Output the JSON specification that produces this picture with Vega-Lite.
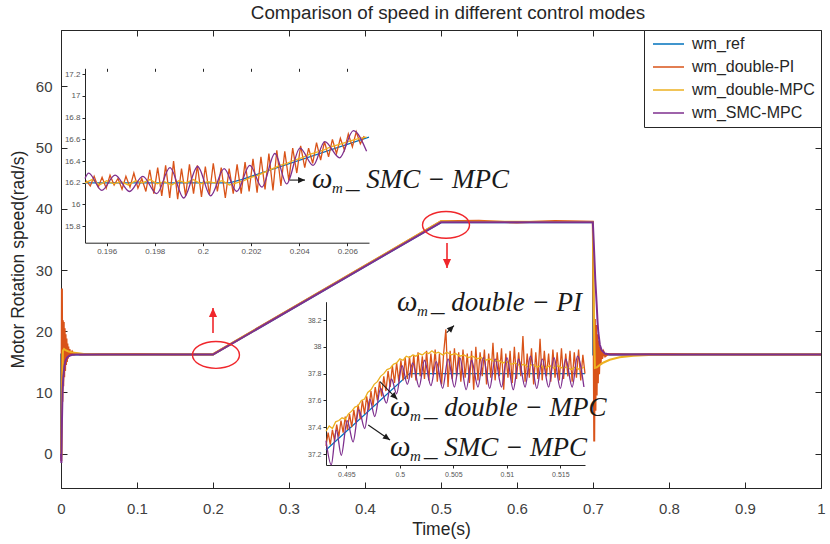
{
 "$schema": "https://vega.github.io/schema/vega-lite/v6.json",
 "width": 760, "height": 458,
 "autosize": {"type": "none"},
 "padding": {"left": 61, "top": 30, "right": 9, "bottom": 56},
 "title": {"text": "Comparison of speed in different control modes", "fontSize": 18.8, "fontWeight": "normal", "color": "#262626", "offset": 7, "dx": 7},
 "datasets": {
  "main": [
   {"s":"wm_ref","t":0,"v":0},{"s":"wm_ref","t":0.0003,"v":16.2},{"s":"wm_ref","t":0.2,"v":16.2},{"s":"wm_ref","t":0.5,"v":37.8},{"s":"wm_ref","t":0.7,"v":37.8},{"s":"wm_ref","t":0.7003,"v":16.2},{"s":"wm_ref","t":1,"v":16.2},
   {"s":"wm_double-PI","t":0,"v":0},{"s":"wm_double-PI","t":0.0004,"v":-1.2},{"s":"wm_double-PI","t":0.0012,"v":27},{"s":"wm_double-PI","t":0.0018,"v":8.5},{"s":"wm_double-PI","t":0.0024,"v":21.8},{"s":"wm_double-PI","t":0.003,"v":11},{"s":"wm_double-PI","t":0.0036,"v":21.5},{"s":"wm_double-PI","t":0.0042,"v":12.5},{"s":"wm_double-PI","t":0.0048,"v":20.5},{"s":"wm_double-PI","t":0.0054,"v":13.5},{"s":"wm_double-PI","t":0.006,"v":19.5},{"s":"wm_double-PI","t":0.0066,"v":14.5},{"s":"wm_double-PI","t":0.0072,"v":18.8},{"s":"wm_double-PI","t":0.0078,"v":15},{"s":"wm_double-PI","t":0.0084,"v":18},{"s":"wm_double-PI","t":0.009,"v":15.5},{"s":"wm_double-PI","t":0.0096,"v":17.5},{"s":"wm_double-PI","t":0.0104,"v":15.8},{"s":"wm_double-PI","t":0.0112,"v":17.1},{"s":"wm_double-PI","t":0.012,"v":16},{"s":"wm_double-PI","t":0.013,"v":16.8},{"s":"wm_double-PI","t":0.014,"v":16.1},{"s":"wm_double-PI","t":0.015,"v":16.6},{"s":"wm_double-PI","t":0.017,"v":16.2},{"s":"wm_double-PI","t":0.02,"v":16.4},{"s":"wm_double-PI","t":0.025,"v":16.2},{"s":"wm_double-PI","t":0.1,"v":16.3},{"s":"wm_double-PI","t":0.15,"v":16.2},{"s":"wm_double-PI","t":0.2,"v":16.25},{"s":"wm_double-PI","t":0.3,"v":23.5},{"s":"wm_double-PI","t":0.4,"v":30.7},{"s":"wm_double-PI","t":0.5,"v":37.95},{"s":"wm_double-PI","t":0.55,"v":38.05},{"s":"wm_double-PI","t":0.6,"v":37.75},{"s":"wm_double-PI","t":0.65,"v":38.0},{"s":"wm_double-PI","t":0.6998,"v":37.9},{"s":"wm_double-PI","t":0.7008,"v":20},{"s":"wm_double-PI","t":0.7016,"v":2},{"s":"wm_double-PI","t":0.7024,"v":22},{"s":"wm_double-PI","t":0.7032,"v":7},{"s":"wm_double-PI","t":0.704,"v":21},{"s":"wm_double-PI","t":0.7048,"v":9.5},{"s":"wm_double-PI","t":0.7056,"v":19.5},{"s":"wm_double-PI","t":0.7064,"v":11.5},{"s":"wm_double-PI","t":0.7072,"v":18.5},{"s":"wm_double-PI","t":0.708,"v":13},{"s":"wm_double-PI","t":0.709,"v":17.5},{"s":"wm_double-PI","t":0.71,"v":14.5},{"s":"wm_double-PI","t":0.711,"v":17},{"s":"wm_double-PI","t":0.712,"v":15.5},{"s":"wm_double-PI","t":0.714,"v":16.6},{"s":"wm_double-PI","t":0.716,"v":15.9},{"s":"wm_double-PI","t":0.72,"v":16.3},{"s":"wm_double-PI","t":0.75,"v":16.2},{"s":"wm_double-PI","t":0.8,"v":16.3},{"s":"wm_double-PI","t":0.9,"v":16.2},{"s":"wm_double-PI","t":1,"v":16.2},
   {"s":"wm_double-MPC","t":0,"v":0},{"s":"wm_double-MPC","t":0.0005,"v":-0.5},{"s":"wm_double-MPC","t":0.0015,"v":10},{"s":"wm_double-MPC","t":0.0025,"v":16.8},{"s":"wm_double-MPC","t":0.004,"v":17.1},{"s":"wm_double-MPC","t":0.006,"v":16.9},{"s":"wm_double-MPC","t":0.01,"v":16.7},{"s":"wm_double-MPC","t":0.015,"v":16.55},{"s":"wm_double-MPC","t":0.02,"v":16.45},{"s":"wm_double-MPC","t":0.03,"v":16.3},{"s":"wm_double-MPC","t":0.05,"v":16.2},{"s":"wm_double-MPC","t":0.2,"v":16.2},{"s":"wm_double-MPC","t":0.21,"v":16.95},{"s":"wm_double-MPC","t":0.5,"v":37.95},{"s":"wm_double-MPC","t":0.52,"v":37.9},{"s":"wm_double-MPC","t":0.6998,"v":37.85},{"s":"wm_double-MPC","t":0.7012,"v":22},{"s":"wm_double-MPC","t":0.7025,"v":14},{"s":"wm_double-MPC","t":0.705,"v":14.1},{"s":"wm_double-MPC","t":0.709,"v":14.5},{"s":"wm_double-MPC","t":0.714,"v":14.9},{"s":"wm_double-MPC","t":0.722,"v":15.35},{"s":"wm_double-MPC","t":0.735,"v":15.75},{"s":"wm_double-MPC","t":0.753,"v":16.0},{"s":"wm_double-MPC","t":0.78,"v":16.15},{"s":"wm_double-MPC","t":0.82,"v":16.2},{"s":"wm_double-MPC","t":1,"v":16.2},
   {"s":"wm_SMC-MPC","t":0,"v":0},{"s":"wm_SMC-MPC","t":0.0005,"v":-1.5},{"s":"wm_SMC-MPC","t":0.0012,"v":5},{"s":"wm_SMC-MPC","t":0.002,"v":10},{"s":"wm_SMC-MPC","t":0.003,"v":12.5},{"s":"wm_SMC-MPC","t":0.0045,"v":14.3},{"s":"wm_SMC-MPC","t":0.006,"v":15.2},{"s":"wm_SMC-MPC","t":0.008,"v":15.7},{"s":"wm_SMC-MPC","t":0.011,"v":16},{"s":"wm_SMC-MPC","t":0.015,"v":16.15},{"s":"wm_SMC-MPC","t":0.02,"v":16.2},{"s":"wm_SMC-MPC","t":0.2,"v":16.2},{"s":"wm_SMC-MPC","t":0.5,"v":37.8},{"s":"wm_SMC-MPC","t":0.6998,"v":37.8},{"s":"wm_SMC-MPC","t":0.7015,"v":33},{"s":"wm_SMC-MPC","t":0.703,"v":28.5},{"s":"wm_SMC-MPC","t":0.7048,"v":24.5},{"s":"wm_SMC-MPC","t":0.706,"v":21.5},{"s":"wm_SMC-MPC","t":0.707,"v":19.8},{"s":"wm_SMC-MPC","t":0.709,"v":17.8},{"s":"wm_SMC-MPC","t":0.7114,"v":16.9},{"s":"wm_SMC-MPC","t":0.7158,"v":16.35},{"s":"wm_SMC-MPC","t":0.722,"v":16.2},{"s":"wm_SMC-MPC","t":1,"v":16.2}
  ],
  "in1": [
   {"s":"wm_ref","t":0.1951,"v":16.2},{"s":"wm_ref","t":0.2011,"v":16.2},{"s":"wm_ref","t":0.2016,"v":16.23},{"s":"wm_ref","t":0.2069,"v":16.62},
   {"s":"wm_double-PI","t":0.19515,"v":16.22},{"s":"wm_double-PI","t":0.19532,"v":16.17},{"s":"wm_double-PI","t":0.19548,"v":16.26},{"s":"wm_double-PI","t":0.19565,"v":16.16},{"s":"wm_double-PI","t":0.19581,"v":16.25},{"s":"wm_double-PI","t":0.19598,"v":16.15},{"s":"wm_double-PI","t":0.19614,"v":16.27},{"s":"wm_double-PI","t":0.19631,"v":16.18},{"s":"wm_double-PI","t":0.19647,"v":16.24},{"s":"wm_double-PI","t":0.19664,"v":16.14},{"s":"wm_double-PI","t":0.1968,"v":16.26},{"s":"wm_double-PI","t":0.19697,"v":16.16},{"s":"wm_double-PI","t":0.19713,"v":16.29},{"s":"wm_double-PI","t":0.1973,"v":16.15},{"s":"wm_double-PI","t":0.19746,"v":16.24},
   {"s":"wm_double-PI","t":0.19763,"v":16.12},{"s":"wm_double-PI","t":0.19779,"v":16.32},{"s":"wm_double-PI","t":0.19796,"v":16.1},{"s":"wm_double-PI","t":0.19812,"v":16.34},{"s":"wm_double-PI","t":0.19829,"v":16.08},{"s":"wm_double-PI","t":0.19845,"v":16.36},{"s":"wm_double-PI","t":0.19862,"v":16.06},
   {"s":"wm_double-PI","t":0.19878,"v":16.4},{"s":"wm_double-PI","t":0.19895,"v":16.05},{"s":"wm_double-PI","t":0.19911,"v":16.33},{"s":"wm_double-PI","t":0.19928,"v":16.08},{"s":"wm_double-PI","t":0.19944,"v":16.37},{"s":"wm_double-PI","t":0.19961,"v":16.1},{"s":"wm_double-PI","t":0.19977,"v":16.36},{"s":"wm_double-PI","t":0.19994,"v":16.07},{"s":"wm_double-PI","t":0.2001,"v":16.35},{"s":"wm_double-PI","t":0.20027,"v":16.09},{"s":"wm_double-PI","t":0.20043,"v":16.38},{"s":"wm_double-PI","t":0.2006,"v":16.12},{"s":"wm_double-PI","t":0.20076,"v":16.34},{"s":"wm_double-PI","t":0.20093,"v":16.06},{"s":"wm_double-PI","t":0.20109,"v":16.33},{"s":"wm_double-PI","t":0.20126,"v":16.1},{"s":"wm_double-PI","t":0.20142,"v":16.37},
   {"s":"wm_double-PI","t":0.20159,"v":16.1},{"s":"wm_double-PI","t":0.20175,"v":16.39},{"s":"wm_double-PI","t":0.20192,"v":16.12},{"s":"wm_double-PI","t":0.20208,"v":16.42},{"s":"wm_double-PI","t":0.20225,"v":16.11},{"s":"wm_double-PI","t":0.20241,"v":16.44},{"s":"wm_double-PI","t":0.20258,"v":16.14},{"s":"wm_double-PI","t":0.20274,"v":16.47},{"s":"wm_double-PI","t":0.20291,"v":16.13},{"s":"wm_double-PI","t":0.20307,"v":16.5},{"s":"wm_double-PI","t":0.20324,"v":16.17},{"s":"wm_double-PI","t":0.2034,"v":16.49},{"s":"wm_double-PI","t":0.20357,"v":16.22},{"s":"wm_double-PI","t":0.20373,"v":16.52},{"s":"wm_double-PI","t":0.2039,"v":16.29},{"s":"wm_double-PI","t":0.20406,"v":16.54},{"s":"wm_double-PI","t":0.20423,"v":16.34},{"s":"wm_double-PI","t":0.20439,"v":16.52},{"s":"wm_double-PI","t":0.20456,"v":16.38},{"s":"wm_double-PI","t":0.20472,"v":16.57},{"s":"wm_double-PI","t":0.20489,"v":16.41},{"s":"wm_double-PI","t":0.20505,"v":16.58},{"s":"wm_double-PI","t":0.20522,"v":16.44},{"s":"wm_double-PI","t":0.20538,"v":16.6},{"s":"wm_double-PI","t":0.20555,"v":16.47},{"s":"wm_double-PI","t":0.20571,"v":16.61},{"s":"wm_double-PI","t":0.20588,"v":16.5},{"s":"wm_double-PI","t":0.20604,"v":16.65},{"s":"wm_double-PI","t":0.20621,"v":16.53},{"s":"wm_double-PI","t":0.20637,"v":16.67},{"s":"wm_double-PI","t":0.20654,"v":16.56},{"s":"wm_double-PI","t":0.2067,"v":16.63},
   {"s":"wm_double-MPC","t":0.1951,"v":16.2},{"s":"wm_double-MPC","t":0.1954,"v":16.23},{"s":"wm_double-MPC","t":0.1957,"v":16.18},{"s":"wm_double-MPC","t":0.196,"v":16.22},{"s":"wm_double-MPC","t":0.1963,"v":16.19},{"s":"wm_double-MPC","t":0.1966,"v":16.21},{"s":"wm_double-MPC","t":0.1969,"v":16.18},{"s":"wm_double-MPC","t":0.1972,"v":16.22},{"s":"wm_double-MPC","t":0.1975,"v":16.2},{"s":"wm_double-MPC","t":0.1978,"v":16.23},{"s":"wm_double-MPC","t":0.1981,"v":16.19},{"s":"wm_double-MPC","t":0.1984,"v":16.21},{"s":"wm_double-MPC","t":0.1987,"v":16.18},{"s":"wm_double-MPC","t":0.199,"v":16.22},{"s":"wm_double-MPC","t":0.1993,"v":16.2},{"s":"wm_double-MPC","t":0.1996,"v":16.23},{"s":"wm_double-MPC","t":0.1999,"v":16.19},{"s":"wm_double-MPC","t":0.2002,"v":16.21},{"s":"wm_double-MPC","t":0.2005,"v":16.2},{"s":"wm_double-MPC","t":0.2008,"v":16.22},{"s":"wm_double-MPC","t":0.2011,"v":16.18},{"s":"wm_double-MPC","t":0.2014,"v":16.2},{"s":"wm_double-MPC","t":0.2017,"v":16.22},{"s":"wm_double-MPC","t":0.202,"v":16.25},{"s":"wm_double-MPC","t":0.2023,"v":16.27},{"s":"wm_double-MPC","t":0.2026,"v":16.3},{"s":"wm_double-MPC","t":0.2029,"v":16.33},{"s":"wm_double-MPC","t":0.2032,"v":16.36},{"s":"wm_double-MPC","t":0.2035,"v":16.38},{"s":"wm_double-MPC","t":0.2038,"v":16.41},{"s":"wm_double-MPC","t":0.2041,"v":16.43},{"s":"wm_double-MPC","t":0.2044,"v":16.46},{"s":"wm_double-MPC","t":0.2047,"v":16.48},{"s":"wm_double-MPC","t":0.205,"v":16.5},{"s":"wm_double-MPC","t":0.2053,"v":16.53},{"s":"wm_double-MPC","t":0.2056,"v":16.55},{"s":"wm_double-MPC","t":0.2059,"v":16.57},{"s":"wm_double-MPC","t":0.2062,"v":16.59},{"s":"wm_double-MPC","t":0.2065,"v":16.61},{"s":"wm_double-MPC","t":0.2068,"v":16.62},
   {"s":"wm_SMC-MPC","t":0.1951,"v":16.24},{"s":"wm_SMC-MPC","t":0.19525,"v":16.29},{"s":"wm_SMC-MPC","t":0.1958,"v":16.13},{"s":"wm_SMC-MPC","t":0.19635,"v":16.27},{"s":"wm_SMC-MPC","t":0.19695,"v":16.12},{"s":"wm_SMC-MPC","t":0.1975,"v":16.26},{"s":"wm_SMC-MPC","t":0.19808,"v":16.1},{"s":"wm_SMC-MPC","t":0.19863,"v":16.34},{"s":"wm_SMC-MPC","t":0.1992,"v":16.06},{"s":"wm_SMC-MPC","t":0.19978,"v":16.35},{"s":"wm_SMC-MPC","t":0.20032,"v":16.08},{"s":"wm_SMC-MPC","t":0.20088,"v":16.33},{"s":"wm_SMC-MPC","t":0.2014,"v":16.12},{"s":"wm_SMC-MPC","t":0.20195,"v":16.36},{"s":"wm_SMC-MPC","t":0.20245,"v":16.16},{"s":"wm_SMC-MPC","t":0.20299,"v":16.47},{"s":"wm_SMC-MPC","t":0.20348,"v":16.19},{"s":"wm_SMC-MPC","t":0.20403,"v":16.52},{"s":"wm_SMC-MPC","t":0.20458,"v":16.36},{"s":"wm_SMC-MPC","t":0.20506,"v":16.58},{"s":"wm_SMC-MPC","t":0.20568,"v":16.43},{"s":"wm_SMC-MPC","t":0.20625,"v":16.68},{"s":"wm_SMC-MPC","t":0.2068,"v":16.49}
  ],
  "in2": [
   {"s":"wm_ref","t":0.4931,"v":37.23},{"s":"wm_ref","t":0.5009,"v":37.8},{"s":"wm_ref","t":0.5173,"v":37.8},
   {"s":"wm_double-PI","t":0.4931,"v":37.26},{"s":"wm_double-PI","t":0.4933,"v":37.36},{"s":"wm_double-PI","t":0.4935,"v":37.27},{"s":"wm_double-PI","t":0.4937,"v":37.38},{"s":"wm_double-PI","t":0.4939,"v":37.3},{"s":"wm_double-PI","t":0.4941,"v":37.42},{"s":"wm_double-PI","t":0.4943,"v":37.33},{"s":"wm_double-PI","t":0.4945,"v":37.45},{"s":"wm_double-PI","t":0.4947,"v":37.36},{"s":"wm_double-PI","t":0.4949,"v":37.48},{"s":"wm_double-PI","t":0.4951,"v":37.38},{"s":"wm_double-PI","t":0.4953,"v":37.5},{"s":"wm_double-PI","t":0.4955,"v":37.4},{"s":"wm_double-PI","t":0.4957,"v":37.53},{"s":"wm_double-PI","t":0.4959,"v":37.43},{"s":"wm_double-PI","t":0.4961,"v":37.57},{"s":"wm_double-PI","t":0.4963,"v":37.46},{"s":"wm_double-PI","t":0.4965,"v":37.6},{"s":"wm_double-PI","t":0.4967,"v":37.5},{"s":"wm_double-PI","t":0.4969,"v":37.63},{"s":"wm_double-PI","t":0.4971,"v":37.53},{"s":"wm_double-PI","t":0.4973,"v":37.67},{"s":"wm_double-PI","t":0.4975,"v":37.56},{"s":"wm_double-PI","t":0.4977,"v":37.7},{"s":"wm_double-PI","t":0.4979,"v":37.6},{"s":"wm_double-PI","t":0.4981,"v":37.74},{"s":"wm_double-PI","t":0.4983,"v":37.63},{"s":"wm_double-PI","t":0.4985,"v":37.78},{"s":"wm_double-PI","t":0.4987,"v":37.67},{"s":"wm_double-PI","t":0.4989,"v":37.82},{"s":"wm_double-PI","t":0.4991,"v":37.7},{"s":"wm_double-PI","t":0.4993,"v":37.86},{"s":"wm_double-PI","t":0.4995,"v":37.73},{"s":"wm_double-PI","t":0.4997,"v":37.88},{"s":"wm_double-PI","t":0.4999,"v":37.74},{"s":"wm_double-PI","t":0.5001,"v":37.9},{"s":"wm_double-PI","t":0.5003,"v":37.75},{"s":"wm_double-PI","t":0.5005,"v":37.92},{"s":"wm_double-PI","t":0.5007,"v":37.76},{"s":"wm_double-PI","t":0.5009,"v":37.93},
   {"s":"wm_double-PI","t":0.5011,"v":37.77},{"s":"wm_double-PI","t":0.5013,"v":37.94},{"s":"wm_double-PI","t":0.5015,"v":37.75},{"s":"wm_double-PI","t":0.5017,"v":37.96},{"s":"wm_double-PI","t":0.5019,"v":37.78},{"s":"wm_double-PI","t":0.5021,"v":37.93},{"s":"wm_double-PI","t":0.5023,"v":37.76},{"s":"wm_double-PI","t":0.5025,"v":37.97},{"s":"wm_double-PI","t":0.5027,"v":37.75},{"s":"wm_double-PI","t":0.5029,"v":37.95},{"s":"wm_double-PI","t":0.5031,"v":37.79},{"s":"wm_double-PI","t":0.5033,"v":37.98},{"s":"wm_double-PI","t":0.5035,"v":37.74},{"s":"wm_double-PI","t":0.5037,"v":37.95},{"s":"wm_double-PI","t":0.5039,"v":37.72},{"s":"wm_double-PI","t":0.5041,"v":37.96},{"s":"wm_double-PI","t":0.5043,"v":38.13},{"s":"wm_double-PI","t":0.5045,"v":37.7},{"s":"wm_double-PI","t":0.5047,"v":37.97},{"s":"wm_double-PI","t":0.5049,"v":37.76},{"s":"wm_double-PI","t":0.5051,"v":37.99},{"s":"wm_double-PI","t":0.5053,"v":37.78},{"s":"wm_double-PI","t":0.5055,"v":37.96},{"s":"wm_double-PI","t":0.5057,"v":37.74},{"s":"wm_double-PI","t":0.5059,"v":37.98},{"s":"wm_double-PI","t":0.5061,"v":37.77},{"s":"wm_double-PI","t":0.5063,"v":37.95},{"s":"wm_double-PI","t":0.5065,"v":37.73},{"s":"wm_double-PI","t":0.5067,"v":37.97},{"s":"wm_double-PI","t":0.5069,"v":37.68},{"s":"wm_double-PI","t":0.5071,"v":38.0},{"s":"wm_double-PI","t":0.5073,"v":37.75},{"s":"wm_double-PI","t":0.5075,"v":37.96},{"s":"wm_double-PI","t":0.5077,"v":37.78},{"s":"wm_double-PI","t":0.5079,"v":37.98},{"s":"wm_double-PI","t":0.5081,"v":37.72},{"s":"wm_double-PI","t":0.5083,"v":37.95},{"s":"wm_double-PI","t":0.5085,"v":37.77},{"s":"wm_double-PI","t":0.5087,"v":38.03},{"s":"wm_double-PI","t":0.5089,"v":37.75},{"s":"wm_double-PI","t":0.5091,"v":37.96},{"s":"wm_double-PI","t":0.5093,"v":37.78},{"s":"wm_double-PI","t":0.5095,"v":37.99},{"s":"wm_double-PI","t":0.5097,"v":37.68},{"s":"wm_double-PI","t":0.5099,"v":37.95},{"s":"wm_double-PI","t":0.5101,"v":37.77},{"s":"wm_double-PI","t":0.5103,"v":37.97},{"s":"wm_double-PI","t":0.5105,"v":37.73},{"s":"wm_double-PI","t":0.5107,"v":38.0},{"s":"wm_double-PI","t":0.5109,"v":37.76},{"s":"wm_double-PI","t":0.5111,"v":37.96},{"s":"wm_double-PI","t":0.5113,"v":37.78},{"s":"wm_double-PI","t":0.5115,"v":38.08},{"s":"wm_double-PI","t":0.5117,"v":37.74},{"s":"wm_double-PI","t":0.5119,"v":37.95},{"s":"wm_double-PI","t":0.5121,"v":37.77},{"s":"wm_double-PI","t":0.5123,"v":37.99},{"s":"wm_double-PI","t":0.5125,"v":37.72},{"s":"wm_double-PI","t":0.5127,"v":37.96},{"s":"wm_double-PI","t":0.5129,"v":37.76},{"s":"wm_double-PI","t":0.5131,"v":38.06},{"s":"wm_double-PI","t":0.5133,"v":37.75},{"s":"wm_double-PI","t":0.5135,"v":37.97},{"s":"wm_double-PI","t":0.5137,"v":37.78},{"s":"wm_double-PI","t":0.5139,"v":37.95},{"s":"wm_double-PI","t":0.5141,"v":37.74},{"s":"wm_double-PI","t":0.5143,"v":37.98},{"s":"wm_double-PI","t":0.5145,"v":37.77},{"s":"wm_double-PI","t":0.5147,"v":37.96},{"s":"wm_double-PI","t":0.5149,"v":37.75},{"s":"wm_double-PI","t":0.5151,"v":37.99},{"s":"wm_double-PI","t":0.5153,"v":37.76},{"s":"wm_double-PI","t":0.5155,"v":37.95},{"s":"wm_double-PI","t":0.5157,"v":37.78},{"s":"wm_double-PI","t":0.5159,"v":37.97},{"s":"wm_double-PI","t":0.5161,"v":37.74},{"s":"wm_double-PI","t":0.5163,"v":37.96},{"s":"wm_double-PI","t":0.5165,"v":37.77},{"s":"wm_double-PI","t":0.5167,"v":37.98},{"s":"wm_double-PI","t":0.5169,"v":37.75},{"s":"wm_double-PI","t":0.5171,"v":37.94},{"s":"wm_double-PI","t":0.5173,"v":37.8},
   {"s":"wm_double-MPC","t":0.4931,"v":37.37},{"s":"wm_double-MPC","t":0.4934,"v":37.41},{"s":"wm_double-MPC","t":0.4937,"v":37.39},{"s":"wm_double-MPC","t":0.494,"v":37.44},{"s":"wm_double-MPC","t":0.4943,"v":37.45},{"s":"wm_double-MPC","t":0.4946,"v":37.47},{"s":"wm_double-MPC","t":0.4949,"v":37.46},{"s":"wm_double-MPC","t":0.4952,"v":37.5},{"s":"wm_double-MPC","t":0.4955,"v":37.52},{"s":"wm_double-MPC","t":0.4958,"v":37.55},{"s":"wm_double-MPC","t":0.4961,"v":37.56},{"s":"wm_double-MPC","t":0.4964,"v":37.6},{"s":"wm_double-MPC","t":0.4967,"v":37.61},{"s":"wm_double-MPC","t":0.497,"v":37.66},{"s":"wm_double-MPC","t":0.4973,"v":37.68},{"s":"wm_double-MPC","t":0.4976,"v":37.72},{"s":"wm_double-MPC","t":0.4979,"v":37.74},{"s":"wm_double-MPC","t":0.4982,"v":37.78},{"s":"wm_double-MPC","t":0.4985,"v":37.8},{"s":"wm_double-MPC","t":0.4988,"v":37.83},{"s":"wm_double-MPC","t":0.4991,"v":37.84},{"s":"wm_double-MPC","t":0.4994,"v":37.87},{"s":"wm_double-MPC","t":0.4997,"v":37.88},{"s":"wm_double-MPC","t":0.5,"v":37.91},{"s":"wm_double-MPC","t":0.5003,"v":37.9},{"s":"wm_double-MPC","t":0.5006,"v":37.93},{"s":"wm_double-MPC","t":0.5009,"v":37.92},{"s":"wm_double-MPC","t":0.5012,"v":37.94},{"s":"wm_double-MPC","t":0.5015,"v":37.93},{"s":"wm_double-MPC","t":0.5018,"v":37.95},{"s":"wm_double-MPC","t":0.5021,"v":37.94},{"s":"wm_double-MPC","t":0.5024,"v":37.96},{"s":"wm_double-MPC","t":0.5027,"v":37.95},{"s":"wm_double-MPC","t":0.503,"v":37.97},{"s":"wm_double-MPC","t":0.5033,"v":37.95},{"s":"wm_double-MPC","t":0.5036,"v":37.96},{"s":"wm_double-MPC","t":0.504,"v":37.94},{"s":"wm_double-MPC","t":0.5044,"v":37.96},{"s":"wm_double-MPC","t":0.5048,"v":37.94},{"s":"wm_double-MPC","t":0.5052,"v":37.95},{"s":"wm_double-MPC","t":0.5056,"v":37.93},{"s":"wm_double-MPC","t":0.506,"v":37.94},{"s":"wm_double-MPC","t":0.5064,"v":37.92},{"s":"wm_double-MPC","t":0.5068,"v":37.93},{"s":"wm_double-MPC","t":0.5072,"v":37.91},{"s":"wm_double-MPC","t":0.5076,"v":37.92},{"s":"wm_double-MPC","t":0.508,"v":37.9},{"s":"wm_double-MPC","t":0.5084,"v":37.91},{"s":"wm_double-MPC","t":0.5088,"v":37.89},{"s":"wm_double-MPC","t":0.5092,"v":37.9},{"s":"wm_double-MPC","t":0.5096,"v":37.88},{"s":"wm_double-MPC","t":0.51,"v":37.89},{"s":"wm_double-MPC","t":0.5104,"v":37.87},{"s":"wm_double-MPC","t":0.5108,"v":37.88},{"s":"wm_double-MPC","t":0.5112,"v":37.86},{"s":"wm_double-MPC","t":0.5116,"v":37.87},{"s":"wm_double-MPC","t":0.512,"v":37.85},{"s":"wm_double-MPC","t":0.5124,"v":37.87},{"s":"wm_double-MPC","t":0.5128,"v":37.85},{"s":"wm_double-MPC","t":0.5132,"v":37.86},{"s":"wm_double-MPC","t":0.5136,"v":37.84},{"s":"wm_double-MPC","t":0.514,"v":37.86},{"s":"wm_double-MPC","t":0.5144,"v":37.84},{"s":"wm_double-MPC","t":0.5148,"v":37.86},{"s":"wm_double-MPC","t":0.5152,"v":37.84},{"s":"wm_double-MPC","t":0.5156,"v":37.85},{"s":"wm_double-MPC","t":0.516,"v":37.83},{"s":"wm_double-MPC","t":0.5164,"v":37.85},{"s":"wm_double-MPC","t":0.5168,"v":37.83},{"s":"wm_double-MPC","t":0.5172,"v":37.85},
   {"s":"wm_SMC-MPC","t":0.4931,"v":37.3},{"s":"wm_SMC-MPC","t":0.49359,"v":37.12},{"s":"wm_SMC-MPC","t":0.49406,"v":37.38},{"s":"wm_SMC-MPC","t":0.49453,"v":37.19},{"s":"wm_SMC-MPC","t":0.49508,"v":37.45},{"s":"wm_SMC-MPC","t":0.49563,"v":37.29},{"s":"wm_SMC-MPC","t":0.49617,"v":37.53},{"s":"wm_SMC-MPC","t":0.49672,"v":37.39},{"s":"wm_SMC-MPC","t":0.49719,"v":37.61},{"s":"wm_SMC-MPC","t":0.49766,"v":37.48},{"s":"wm_SMC-MPC","t":0.4982,"v":37.69},{"s":"wm_SMC-MPC","t":0.49875,"v":37.58},{"s":"wm_SMC-MPC","t":0.49922,"v":37.76},{"s":"wm_SMC-MPC","t":0.4997,"v":37.65},{"s":"wm_SMC-MPC","t":0.5002,"v":37.86},{"s":"wm_SMC-MPC","t":0.5007,"v":37.72},{"s":"wm_SMC-MPC","t":0.5012,"v":37.88},{"s":"wm_SMC-MPC","t":0.5018,"v":37.7},{"s":"wm_SMC-MPC","t":0.5023,"v":37.9},{"s":"wm_SMC-MPC","t":0.5029,"v":37.71},{"s":"wm_SMC-MPC","t":0.5034,"v":37.89},{"s":"wm_SMC-MPC","t":0.504,"v":37.69},{"s":"wm_SMC-MPC","t":0.5045,"v":37.91},{"s":"wm_SMC-MPC","t":0.5051,"v":37.7},{"s":"wm_SMC-MPC","t":0.5056,"v":37.92},{"s":"wm_SMC-MPC","t":0.5062,"v":37.68},{"s":"wm_SMC-MPC","t":0.5067,"v":37.9},{"s":"wm_SMC-MPC","t":0.5073,"v":37.7},{"s":"wm_SMC-MPC","t":0.5078,"v":37.92},{"s":"wm_SMC-MPC","t":0.5084,"v":37.69},{"s":"wm_SMC-MPC","t":0.5089,"v":37.91},{"s":"wm_SMC-MPC","t":0.5095,"v":37.7},{"s":"wm_SMC-MPC","t":0.51,"v":37.92},{"s":"wm_SMC-MPC","t":0.5106,"v":37.68},{"s":"wm_SMC-MPC","t":0.5111,"v":37.91},{"s":"wm_SMC-MPC","t":0.5117,"v":37.7},{"s":"wm_SMC-MPC","t":0.5122,"v":37.93},{"s":"wm_SMC-MPC","t":0.5128,"v":37.69},{"s":"wm_SMC-MPC","t":0.5133,"v":37.91},{"s":"wm_SMC-MPC","t":0.5139,"v":37.7},{"s":"wm_SMC-MPC","t":0.5144,"v":37.92},{"s":"wm_SMC-MPC","t":0.515,"v":37.69},{"s":"wm_SMC-MPC","t":0.5155,"v":37.91},{"s":"wm_SMC-MPC","t":0.5161,"v":37.7},{"s":"wm_SMC-MPC","t":0.5166,"v":37.93},{"s":"wm_SMC-MPC","t":0.5172,"v":37.7}
  ],
  "ell": [{"t":0.2039,"v":16.13},{"t":0.5066,"v":37.37}],
  "redarr": [{"id":"up","t":0.2,"v":19.72,"t2":0.2,"v2":23.8},{"id":"down","t":0.5079,"v":34.43,"t2":0.5079,"v2":30.34}],
  "blkarr": [{"id":"a1","t":0.3013,"v":44.69,"t2":0.3211,"v2":44.69},{"id":"a2","t":0.5075,"v":19.77,"t2":0.5171,"v2":20.92},{"id":"a3","t":0.4197,"v":11.76,"t2":0.4425,"v2":8.89},{"id":"a4","t":0.4043,"v":4.69,"t2":0.4329,"v2":2.24}],
  "notes": [{"label":"_ SMC − MPC","t":0.3303,"v":43.41},{"label":"_ double − PI","t":0.4421,"v":23.28},{"label":"_ double − MPC","t":0.4329,"v":6.17},{"label":"_ SMC − MPC","t":0.4329,"v":-0.38}]
 },
 "resolve": {"scale": {"x": "independent", "y": "independent"}},
 "layer": [
  {
   "data": {"name": "main"},
   "mark": {"type": "line", "strokeWidth": 2},
   "encoding": {
    "x": {"field": "t", "type": "quantitative", "scale": {"domain": [0, 1], "nice": false, "zero": false},
          "axis": {"orient": "bottom", "values": [0,0.1,0.2,0.3,0.4,0.5,0.6,0.7,0.8,0.9,1], "format": "~g", "tickSize": -6, "labelPadding": 19, "labelFontSize": 15, "labelFlush": false, "title": "Time(s)", "titleFontSize": 17.5, "titlePadding": 4}},
    "y": {"field": "v", "type": "quantitative", "scale": {"domain": [-5.6, 69.2], "nice": false, "zero": false},
          "axis": {"orient": "left", "values": [0,10,20,30,40,50,60], "tickSize": -6, "labelPadding": 15, "labelFontSize": 15, "title": "Motor Rotation speed(rad/s)", "titleFontSize": 17.5, "titlePadding": 8}},
    "color": {"field": "s", "type": "nominal",
              "scale": {"domain": ["wm_ref","wm_double-PI","wm_double-MPC","wm_SMC-MPC"], "range": ["#0072BD","#D95319","#EDB120","#7E2F8E"]},
              "legend": {"title": null, "orient": "top-right", "offset": 0}}
   }
  },
  {
   "data": {"name": "main"},
   "mark": {"type": "point", "opacity": 0},
   "encoding": {
    "x": {"field": "t", "type": "quantitative", "scale": {"domain": [0, 1], "nice": false, "zero": false},
          "axis": {"orient": "top", "values": [0,0.1,0.2,0.3,0.4,0.5,0.6,0.7,0.8,0.9,1], "tickSize": -6, "labels": false, "domain": false, "title": null}},
    "y": {"field": "v", "type": "quantitative", "scale": {"domain": [-5.6, 69.2], "nice": false, "zero": false},
          "axis": {"orient": "right", "values": [0,10,20,30,40,50,60], "tickSize": -6, "labels": false, "domain": false, "title": null}}
   }
  },
  {
   "data": {"name": "in1"},
   "encoding": {
    "x": {"field": "t", "type": "quantitative", "scale": {"domain": [0.1951, 0.2069], "range": [24, 308], "nice": false, "zero": false},
          "axis": {"orient": "bottom", "offset": -245.3, "values": [0.196,0.198,0.2,0.202,0.204,0.206], "format": "~g", "tickSize": 3, "labelPadding": 2, "labelFontSize": 8, "labelColor": "#555555", "labelFlush": false, "title": null}},
    "y": {"field": "v", "type": "quantitative", "scale": {"domain": [15.648, 17.255], "range": [212.7, 38.3], "nice": false, "zero": false},
          "axis": {"orient": "left", "offset": -24, "values": [15.8,16,16.2,16.4,16.6,16.8,17,17.2], "format": "~g", "tickSize": 3, "labelPadding": 2, "labelFontSize": 8, "labelColor": "#555555", "title": null}},
    "color": {"field": "s", "type": "nominal", "scale": {"domain": ["wm_ref","wm_double-PI","wm_double-MPC","wm_SMC-MPC"], "range": ["#0072BD","#D95319","#EDB120","#7E2F8E"]}}
   },
   "layer": [
    {"transform": [{"filter": "datum.s !== 'wm_SMC-MPC'"}], "mark": {"type": "line", "strokeWidth": 1.3}},
    {"transform": [{"filter": "datum.s === 'wm_SMC-MPC'"}], "mark": {"type": "line", "strokeWidth": 1.3, "interpolate": "monotone"}}
   ]
  },
  {
   "data": {"name": "in1"},
   "mark": {"type": "point", "opacity": 0},
   "encoding": {
    "x": {"field": "t", "type": "quantitative", "scale": {"domain": [0.1951, 0.2069], "range": [24, 308], "nice": false, "zero": false},
          "axis": {"orient": "top", "offset": -38.3, "values": [0.196,0.198,0.2,0.202,0.204,0.206], "tickSize": -3, "labels": false, "domain": false, "title": null}},
    "y": {"field": "v", "type": "quantitative", "scale": {"domain": [15.648, 17.255], "range": [212.7, 38.3], "nice": false, "zero": false}, "axis": null}
   }
  },
  {
   "data": {"name": "in2"},
   "encoding": {
    "x": {"field": "t", "type": "quantitative", "scale": {"domain": [0.4931, 0.5173], "range": [265, 524], "nice": false, "zero": false},
          "axis": {"orient": "bottom", "offset": -23, "values": [0.495,0.5,0.505,0.51,0.515], "format": "~g", "tickSize": 3, "labelPadding": 2, "labelFontSize": 7, "labelColor": "#555555", "labelFlush": false, "title": null}},
    "y": {"field": "v", "type": "quantitative", "scale": {"domain": [37.118, 38.337], "range": [435, 271.7], "nice": false, "zero": false},
          "axis": {"orient": "left", "offset": -265, "values": [37.2,37.4,37.6,37.8,38,38.2], "format": "~g", "tickSize": 3, "labelPadding": 2, "labelFontSize": 7, "labelColor": "#555555", "title": null}},
    "color": {"field": "s", "type": "nominal", "scale": {"domain": ["wm_ref","wm_double-PI","wm_double-MPC","wm_SMC-MPC"], "range": ["#0072BD","#D95319","#EDB120","#7E2F8E"]}}
   },
   "layer": [
    {"transform": [{"filter": "datum.s !== 'wm_SMC-MPC'"}], "mark": {"type": "line", "strokeWidth": 1.3}},
    {"transform": [{"filter": "datum.s === 'wm_SMC-MPC'"}], "mark": {"type": "line", "strokeWidth": 1.3, "interpolate": "monotone"}}
   ]
  },
  {
   "encoding": {
    "x": {"field": "t", "type": "quantitative", "scale": {"domain": [0, 1], "nice": false, "zero": false}, "axis": null},
    "y": {"field": "v", "type": "quantitative", "scale": {"domain": [-5.6, 69.2], "nice": false, "zero": false}, "axis": null}
   },
   "layer": [
    {"data": {"name": "ell"}, "mark": {"type": "point", "shape": "M -1 0 A 1 0.57 0 1 0 1 0 A 1 0.57 0 1 0 -1 0 Z", "size": 2209, "filled": false, "stroke": "#F0262B", "strokeWidth": 1.4, "opacity": 1}},
    {"data": {"name": "redarr"}, "mark": {"type": "rule", "stroke": "#F0262B", "strokeWidth": 1.6}, "encoding": {"x2": {"field": "t2"}, "y2": {"field": "v2"}}},
    {"data": {"name": "redarr"}, "transform": [{"filter": "datum.id === 'up'"}], "mark": {"type": "point", "shape": "M 0 0 L -1 -0.45 L -1 0.45 Z", "size": 324, "filled": true, "color": "#F0262B", "opacity": 1, "angle": -90}, "encoding": {"x": {"field": "t2", "type": "quantitative"}, "y": {"field": "v2", "type": "quantitative"}}},
    {"data": {"name": "redarr"}, "transform": [{"filter": "datum.id === 'down'"}], "mark": {"type": "point", "shape": "M 0 0 L -1 -0.45 L -1 0.45 Z", "size": 324, "filled": true, "color": "#F0262B", "opacity": 1, "angle": 90}, "encoding": {"x": {"field": "t2", "type": "quantitative"}, "y": {"field": "v2", "type": "quantitative"}}},
    {"data": {"name": "blkarr"}, "mark": {"type": "rule", "stroke": "#1a1a1a", "strokeWidth": 1.1}, "encoding": {"x2": {"field": "t2"}, "y2": {"field": "v2"}}},
    {"data": {"name": "blkarr"}, "transform": [{"filter": "datum.id === 'a1'"}], "mark": {"type": "point", "shape": "M 0 0 L -1 -0.45 L -1 0.45 Z", "size": 196, "filled": true, "color": "#1a1a1a", "opacity": 1, "angle": 0}, "encoding": {"x": {"field": "t2", "type": "quantitative"}, "y": {"field": "v2", "type": "quantitative"}}},
    {"data": {"name": "blkarr"}, "transform": [{"filter": "datum.id === 'a2'"}], "mark": {"type": "point", "shape": "M 0 0 L -1 -0.45 L -1 0.45 Z", "size": 196, "filled": true, "color": "#1a1a1a", "opacity": 1, "angle": -44}, "encoding": {"x": {"field": "t2", "type": "quantitative"}, "y": {"field": "v2", "type": "quantitative"}}},
    {"data": {"name": "blkarr"}, "transform": [{"filter": "datum.id === 'a3'"}], "mark": {"type": "point", "shape": "M 0 0 L -1 -0.45 L -1 0.45 Z", "size": 196, "filled": true, "color": "#1a1a1a", "opacity": 1, "angle": 45}, "encoding": {"x": {"field": "t2", "type": "quantitative"}, "y": {"field": "v2", "type": "quantitative"}}},
    {"data": {"name": "blkarr"}, "transform": [{"filter": "datum.id === 'a4'"}], "mark": {"type": "point", "shape": "M 0 0 L -1 -0.45 L -1 0.45 Z", "size": 196, "filled": true, "color": "#1a1a1a", "opacity": 1, "angle": 35}, "encoding": {"x": {"field": "t2", "type": "quantitative"}, "y": {"field": "v2", "type": "quantitative"}}},
    {"data": {"name": "notes"}, "mark": {"type": "text", "text": "ω", "font": "Liberation Serif", "fontStyle": "italic", "fontSize": 29, "align": "left", "baseline": "alphabetic", "color": "#1a1a1a"}},
    {"data": {"name": "notes"}, "mark": {"type": "text", "text": "m", "font": "Liberation Serif", "fontStyle": "italic", "fontSize": 15, "align": "left", "baseline": "alphabetic", "dx": 20, "dy": 5, "color": "#1a1a1a"}},
    {"data": {"name": "notes"}, "mark": {"type": "text", "font": "Liberation Serif", "fontStyle": "italic", "fontSize": 27, "align": "left", "baseline": "alphabetic", "dx": 34, "color": "#1a1a1a"}, "encoding": {"text": {"field": "label"}}}
   ]
  }
 ],
 "config": {
  "font": "Liberation Sans",
  "view": {"stroke": "#262626", "strokeWidth": 1},
  "axis": {"grid": false, "domainColor": "#262626", "tickColor": "#262626", "labelColor": "#404040", "titleColor": "#262626", "titleFontWeight": "normal", "labelFont": "Liberation Sans", "titleFont": "Liberation Sans"},
  "legend": {"padding": 6, "fillColor": "white", "strokeColor": "#262626", "labelFontSize": 16, "labelColor": "#262626", "symbolType": "M -1 0 L 5.2 0", "symbolSize": 100, "symbolStrokeWidth": 1.5, "rowPadding": 7, "labelOffset": 26}
 }
}
